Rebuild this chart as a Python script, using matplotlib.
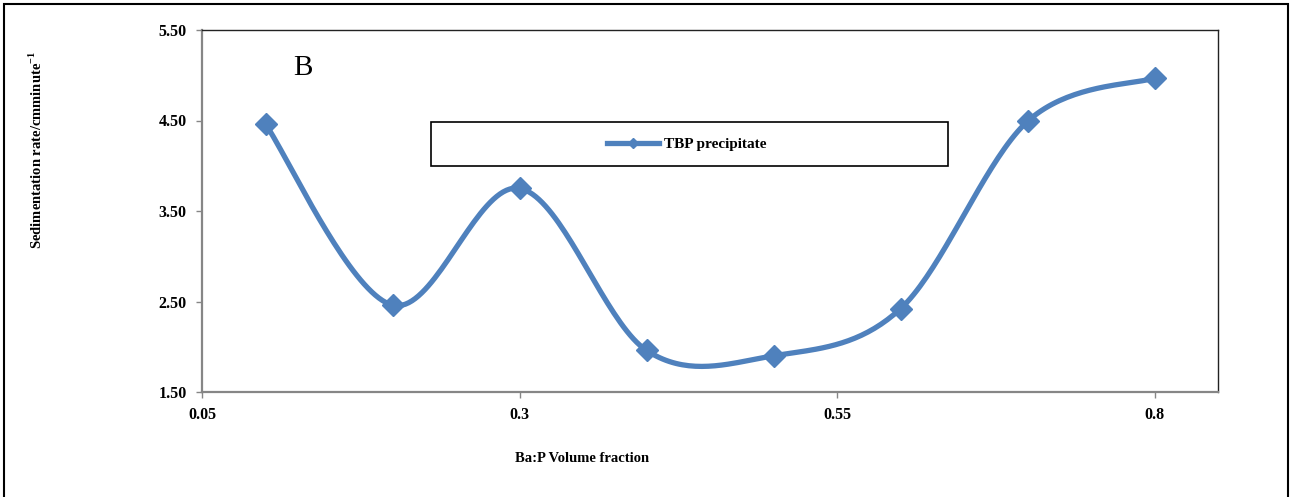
import numpy as np
import matplotlib
matplotlib.use("Agg")
import matplotlib.pyplot as plt
from matplotlib.patches import Rectangle
from matplotlib.lines import Line2D

plt.rcParams['font.family'] = ['Liberation Serif', 'DejaVu Serif']
plt.rcParams['mathtext.fontset'] = 'custom'
plt.rcParams['mathtext.rm'] = 'Liberation Serif'
plt.rcParams['mathtext.bf'] = 'Liberation Serif:bold'

# Ba:P volume fraction vs sedimentation rate
fraction = [0.1, 0.2, 0.3, 0.4, 0.5, 0.6, 0.7, 0.8]
rate = [4.46, 2.46, 3.75, 1.96, 1.90, 2.42, 4.49, 4.97]
x_ticks = [0.05, 0.3, 0.55, 0.8]
y_ticks = [1.50, 2.50, 3.50, 4.50, 5.50]
series_name = "TBP precipitate"

blue = "#4F81BD"
grey = "#868686"


def smooth(xs, ys, n=40):
    # Catmull-Rom spline through the points, like a spreadsheet "smoothed line"
    p = np.column_stack([xs, ys]).astype(float)
    p = np.vstack([p[0], p, p[-1]])
    out = []
    t = np.linspace(0, 1, n)[:, None]
    for i in range(1, len(p) - 2):
        p0, p1, p2, p3 = p[i - 1], p[i], p[i + 1], p[i + 2]
        c1 = p1 + (p2 - p0) / 6
        c2 = p2 - (p3 - p1) / 6
        seg = ((1 - t) ** 3) * p1 + 3 * ((1 - t) ** 2) * t * c1 \
            + 3 * (1 - t) * t ** 2 * c2 + t ** 3 * p2
        out.append(seg if i == 1 else seg[1:])
    out = np.vstack(out)
    return out[:, 0], out[:, 1]


fig = plt.figure(figsize=(12.92, 4.97), dpi=100)
ax = fig.add_axes([202 / 1292, 1 - 392 / 497, (1218 - 202) / 1292, (392 - 30) / 497])

sx, sy = smooth(fraction, rate)
ax.plot(sx, sy, color=blue, lw=3.8, solid_capstyle='round', zorder=3)
ax.plot(fraction, rate, ls='none', marker='D', ms=11, color=blue, zorder=4)

ax.set_xlim(0.05, 0.85)
ax.set_ylim(1.5, 5.5)
ax.set_xticks(x_ticks)
ax.set_xticklabels(["0.05", "0.3", "0.55", "0.8"])
ax.set_yticks(y_ticks)
ax.set_yticklabels(["%.2f" % v for v in y_ticks])
for lab in ax.get_xticklabels() + ax.get_yticklabels():
    lab.set_fontweight('bold')
    lab.set_fontsize(11.5)
ax.tick_params(direction='out', length=4, width=1, color=grey, pad=7)

for s in ('left', 'bottom'):
    ax.spines[s].set_color(grey)
    ax.spines[s].set_linewidth(1.6)
for s in ('top', 'right'):
    ax.spines[s].set_color('#222222')
    ax.spines[s].set_linewidth(1.0)

ax.text(0.1295, 5.08, "B", fontsize=21, ha='center', va='center')

fig.text(36 / 1292, 1 - 150 / 497, "Sedimentation rate/cmminute$^{\\mathbf{-1}}$",
         rotation=90, ha='center', va='center', fontsize=10.5, fontweight='bold')
fig.text(582 / 1292, 1 - 458 / 497, "Ba:P Volume fraction",
         ha='center', va='center', fontsize=10.5, fontweight='bold')

# legend box
fig.patches.append(Rectangle((431 / 1292, 1 - 166 / 497), (948 - 431) / 1292, 44 / 497,
                             transform=fig.transFigure, fill=False, ec='black', lw=1.2))
fig.legend([Line2D([0, 0.5, 1], [0, 0, 0], color=blue, lw=3.8, marker='D', ms=5, markevery=[1])],
           [series_name], loc='center', bbox_to_anchor=(687 / 1292, 1 - 144 / 497),
           frameon=False, handlelength=3.4, handletextpad=0.3,
           prop={'weight': 'bold', 'size': 11})

# outer frame
fig.patches.append(Rectangle((4 / 1292, -0.01), 1284 / 1292, 1 - 4 / 497 + 0.01,
                             transform=fig.transFigure, fill=False, ec='black', lw=1.5))

fig.savefig("out.png", dpi=100)
